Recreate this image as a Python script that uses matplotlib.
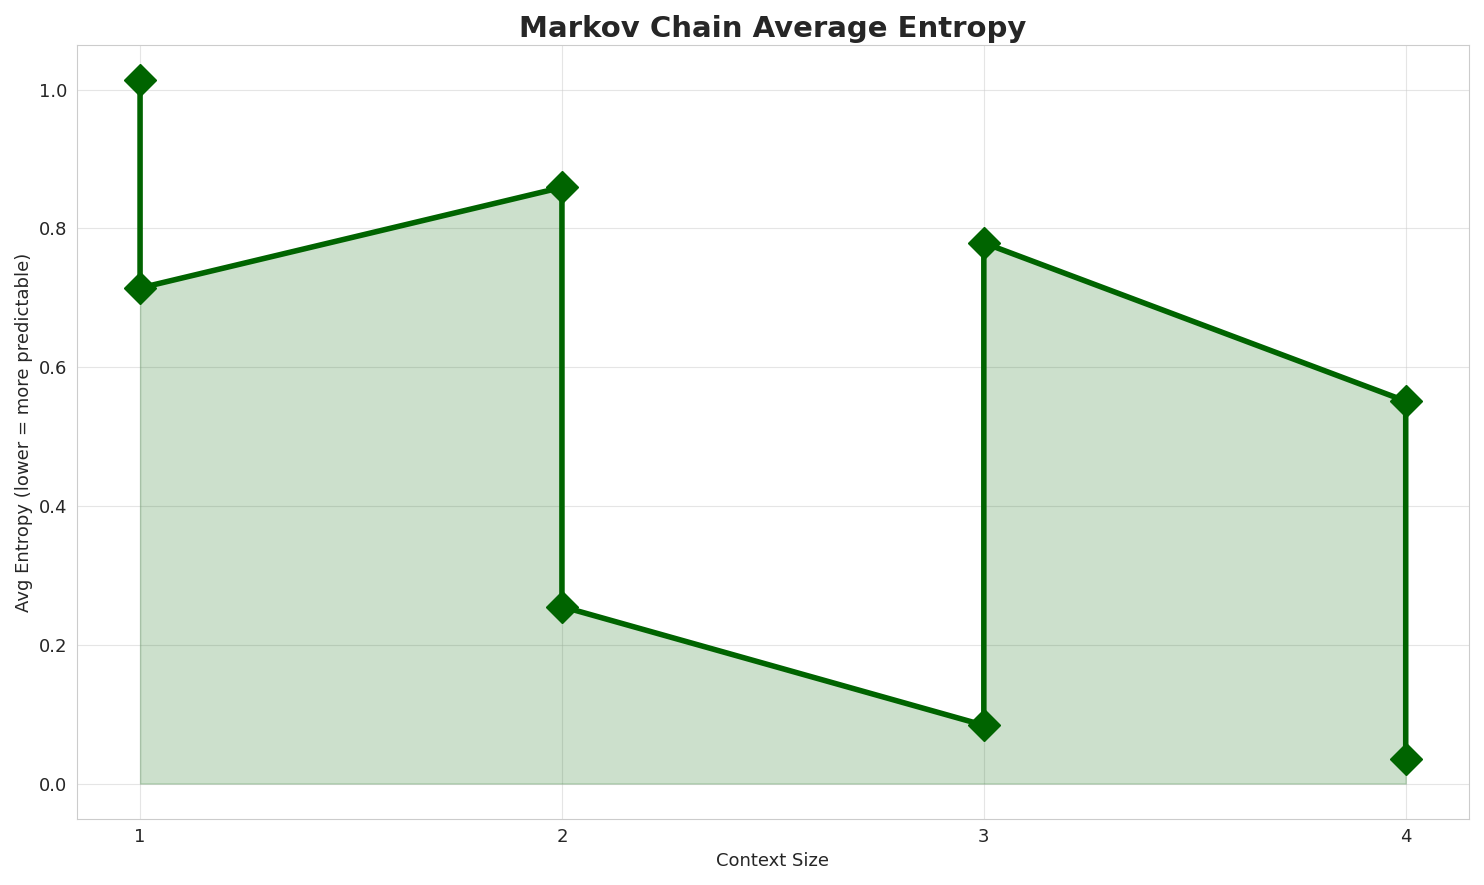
import matplotlib
matplotlib.use("Agg")
import matplotlib.pyplot as plt
import seaborn as sns

sns.set_style("whitegrid")

context_size = [1, 1, 2, 2, 3, 3, 4, 4]
avg_entropy = [1.013, 0.714, 0.859, 0.255, 0.084, 0.779, 0.551, 0.036]

fig, ax = plt.subplots(figsize=(14.84, 8.85), dpi=100)
ax.fill_between(context_size, avg_entropy, 0, color="darkgreen", alpha=0.2)
ax.plot(context_size, avg_entropy, color="darkgreen", linewidth=4,
        marker="D", markersize=16)

ax.set_xticks([1, 2, 3, 4])
ax.tick_params(labelsize=13)
ax.set_xlabel("Context Size", fontsize=13)
ax.set_ylabel("Avg Entropy (lower = more predictable)", fontsize=13)
ax.set_title("Markov Chain Average Entropy", fontsize=21, fontweight="bold")
ax.grid(True, alpha=0.5)

plt.tight_layout()
plt.savefig("out.png", dpi=100)
